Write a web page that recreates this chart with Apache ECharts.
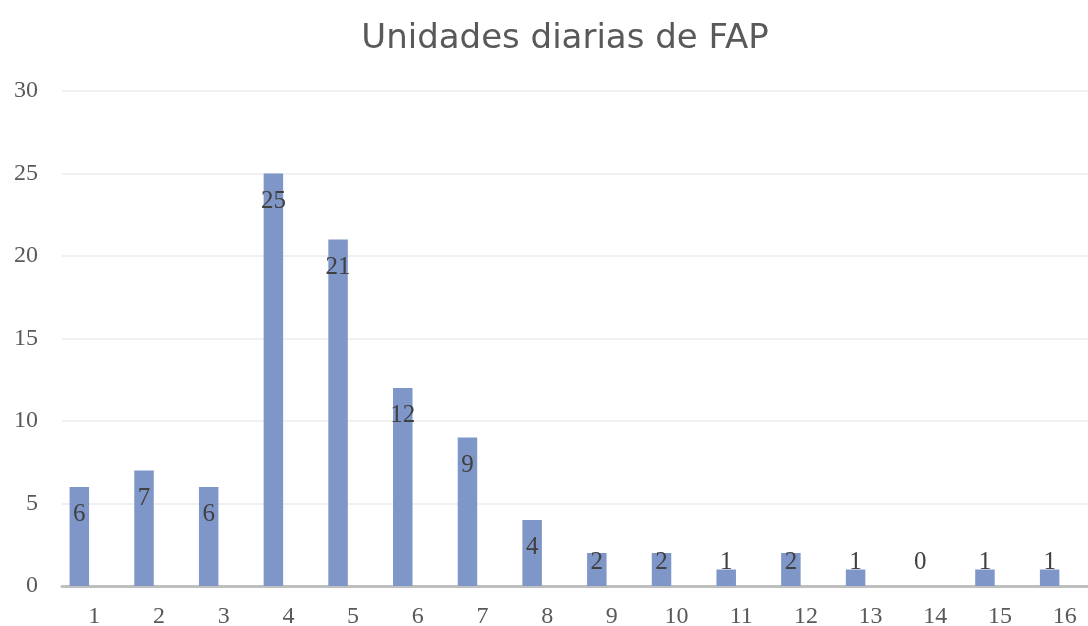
<!DOCTYPE html>
<html>
<head>
<meta charset="utf-8">
<script src="https://cdn.jsdelivr.net/npm/echarts@6/dist/echarts.min.js"></script>
<style>html,body{margin:0;padding:0;background:#fff}#c{width:1088px;height:626px}</style>
</head>
<body>
<div id="c"></div>
<script>
const titleText = 'Unidades diarias de FAP';
const categories = ['1','2','3','4','5','6','7','8','9','10','11','12','13','14','15','16'];
const units = [6, 7, 6, 25, 21, 12, 9, 4, 2, 2, 1, 2, 1, 0, 1, 1];
const yMin = 0, yMax = 30, yStep = 5;

const serif = '"Liberation Serif", "DejaVu Serif", serif';
const chart = echarts.init(document.getElementById('c'), null, {renderer: 'canvas'});

const barData = units.map(v => v <= 2
  ? {value: v, label: {position: 'insideBottom', distance: 11}}
  : v);

chart.setOption({
  animation: false,
  backgroundColor: '#ffffff',
  title: {
    text: titleText,
    left: 560, top: 17,
    textAlign: 'center',
    textStyle: {fontFamily: '"DejaVu Sans", "Noto Sans", sans-serif', fontSize: 34, fontWeight: 'normal', color: '#595959'}
  },
  grid: {left: 62, top: 91, right: -9, bottom: 40, outerBoundsMode: 'none', containLabel: false},
  xAxis: {
    type: 'category',
    data: categories,
    axisLine: {lineStyle: {color: '#bfbfbf', width: 3}},
    axisTick: {show: false},
    axisLabel: {color: '#595959', fontFamily: serif, fontSize: 24, margin: 19}
  },
  yAxis: {
    type: 'value',
    min: yMin, max: yMax, interval: yStep,
    axisLine: {show: false},
    axisTick: {show: false},
    splitLine: {lineStyle: {color: '#ebebeb', width: 1.5}},
    axisLabel: {color: '#595959', fontFamily: serif, fontSize: 24, margin: 24}
  },
  series: [
    {
      type: 'bar',
      name: 'Unidades',
      data: barData,
      barWidth: 19.5,
      barGap: '54%',
      itemStyle: {color: '#7f96c8'},
      label: {
        show: true,
        position: 'insideTop',
        distance: 15,
        color: '#404040',
        fontFamily: serif,
        fontSize: 25
      }
    },
    {
      type: 'bar',
      name: 'vacío',
      data: [],
      barWidth: 19.5,
      barGap: '54%'
    }
  ]
});
</script>
</body>
</html>
